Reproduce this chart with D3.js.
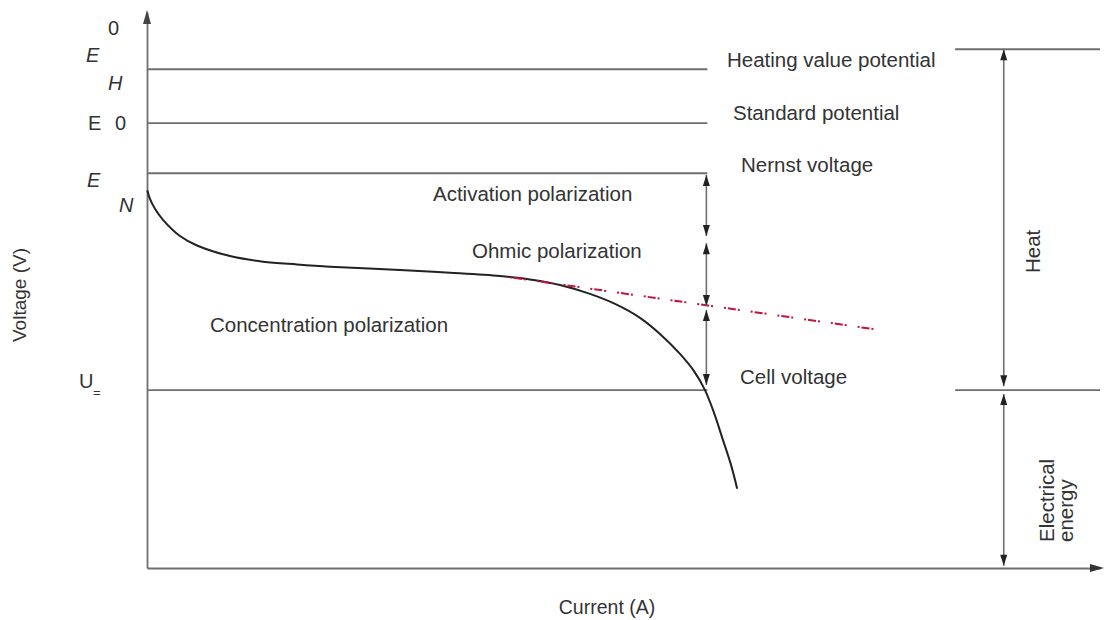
<!DOCTYPE html>
<html>
<head>
<meta charset="utf-8">
<script src="https://cdn.jsdelivr.net/npm/d3@7"></script>
<style>
  body { margin: 0; background: #fff; }
  text { font-family: "Liberation Sans", Arial, Helvetica, sans-serif; fill: #333; }
</style>
</head>
<body>
<svg id="chart" width="1104" height="620"></svg>
<script>
// Fuel cell polarization diagram: cell voltage against current (arbitrary units 0-100)

// Reference potential levels
const levelNames = ["Heating value potential", "Standard potential", "Nernst voltage", "Cell voltage"];
const levelValues = [89.7, 80.0, 71.0, 32.0];

// Polarization curve
const curveCurrent = [0.05, 0.31, 0.84, 1.68, 3.46, 5.25, 8.71, 12.17, 15.74, 19.20, 26.55, 31.79, 37.04, 40.19, 43.34, 46.48, 49.11, 51.73, 53.83, 55.93, 57.40, 58.55, 59.50, 60.44, 61.29, 61.91];
const curveVoltage = [67.8, 66.4, 64.6, 62.6, 59.7, 58.0, 56.1, 55.1, 54.6, 54.2, 53.6, 53.1, 52.5, 51.9, 50.9, 49.3, 47.5, 45.0, 42.1, 38.5, 35.4, 32.0, 27.9, 23.0, 18.5, 14.4];

// Ohmic (linear) extrapolation
const ohmicCurrent = [38.1, 76.9];
const ohmicVoltage = [52.3, 42.8];

// Loss spans measured at the operating current
const lossNames = ["Activation polarization", "Ohmic polarization", "Concentration polarization"];
const lossCurrent = 58.8;
const lossTop = [70.7, 58.4, 46.4];
const lossBottom = [59.7, 47.1, 32.9];

// Energy split of the heating value
const energyNames = ["Heat", "Electrical energy"];
const energyTop = [93.3, 31.3];
const energyBottom = [32.7, 0.4];
const energyCurrent = 89.9;
const energyLevels = [93.3, 32.0];

const svg = d3.select("#chart");
const x = d3.scaleLinear().domain([0, 100]).range([147, 1100]);
const y = d3.scaleLinear().domain([0, 100]).range([568, 12]);

const grey = "#6f6f6f";
const dark = "#222";

// arrowhead: tip at (px,py), dir = +1 points down, -1 up, "right" points right
function head(g, px, py, dir, w, len, fill) {
  let d;
  if (dir === "right") d = `M${px},${py}L${px - len},${py - w}L${px - len},${py + w}Z`;
  else d = `M${px},${py}L${px - w},${py - dir * len}L${px + w},${py - dir * len}Z`;
  g.append("path").attr("d", d).attr("fill", fill);
}

// Axes (no ticks, arrow-tipped)
const axisG = svg.append("g");
axisG.append("g").attr("transform", `translate(${x(0)},0)`)
  .call(d3.axisLeft(y).tickValues([]).tickSizeOuter(0));
axisG.append("g").attr("transform", `translate(0,${y(0)})`)
  .call(d3.axisBottom(x).tickValues([]).tickSizeOuter(0));
axisG.selectAll(".domain").attr("stroke", grey).attr("stroke-width", 1.8);
head(axisG, x(0), 10, -1, 4, 14, "#444");
head(axisG, 1104, y(0), "right", 4, 14, "#333");

// Horizontal potential levels
const lvlEnd = x(lossCurrent);
svg.append("g").selectAll("line").data(levelValues).join("line")
  .attr("x1", x(0)).attr("x2", lvlEnd)
  .attr("y1", d => y(d)).attr("y2", d => y(d))
  .attr("stroke", grey).attr("stroke-width", 1.8);

// Right-hand level stubs
svg.append("g").selectAll("line").data(energyLevels).join("line")
  .attr("x1", x(84.8)).attr("x2", x(100))
  .attr("y1", d => y(d)).attr("y2", d => y(d))
  .attr("stroke", grey).attr("stroke-width", 1.8);

// Level labels
const levelLabelX = [727, 733, 741, 740];
const levelLabelDy = [-2, -3, -1, -6];
svg.append("g").selectAll("text").data(levelNames).join("text")
  .attr("x", (d, i) => levelLabelX[i])
  .attr("y", (d, i) => y(levelValues[i]) + levelLabelDy[i])
  .attr("font-size", 20.5)
  .text(d => d);

// Polarization curve
const curvePts = curveCurrent.map((c, i) => [c, curveVoltage[i]]);
svg.append("path")
  .datum(curvePts)
  .attr("fill", "none")
  .attr("stroke", dark)
  .attr("stroke-width", 2)
  .attr("stroke-linecap", "round")
  .attr("d", d3.line().x(d => x(d[0])).y(d => y(d[1])).curve(d3.curveCatmullRom.alpha(0.5)));

// Ohmic extrapolation line (dash-dot, red)
svg.append("path")
  .datum(ohmicCurrent.map((c, i) => [c, ohmicVoltage[i]]))
  .attr("fill", "none")
  .attr("stroke", "#c4123a")
  .attr("stroke-width", 2)
  .attr("stroke-dasharray", "2,2,8,2,2,11")
  .attr("d", d3.line().x(d => x(d[0])).y(d => y(d[1])));

// Loss span arrows
const lossG = svg.append("g");
lossTop.forEach((t, i) => {
  const px = x(lossCurrent) - 1;
  lossG.append("line")
    .attr("x1", px).attr("x2", px)
    .attr("y1", y(t)).attr("y2", y(lossBottom[i]))
    .attr("stroke", grey).attr("stroke-width", 1.6);
  head(lossG, px, y(t), -1, 3.5, 11, dark);
  head(lossG, px, y(lossBottom[i]), 1, 3.5, 11, dark);
});

// Loss labels
const lossLabelX = [433, 472, 210];
const lossLabelY = [201, 258, 332];
svg.append("g").selectAll("text").data(lossNames).join("text")
  .attr("x", (d, i) => lossLabelX[i])
  .attr("y", (d, i) => lossLabelY[i])
  .attr("font-size", 20.5)
  .text(d => d);

// Energy arrows on the right
const enG = svg.append("g");
energyTop.forEach((t, i) => {
  const px = x(energyCurrent);
  enG.append("line")
    .attr("x1", px).attr("x2", px)
    .attr("y1", y(t)).attr("y2", y(energyBottom[i]))
    .attr("stroke", grey).attr("stroke-width", 1.6);
  head(enG, px, y(t), -1, 3.5, 11, dark);
  head(enG, px, y(energyBottom[i]), 1, 3.5, 11, dark);
});

// Energy labels (vertical)
svg.append("text")
  .attr("transform", "translate(1040,273) rotate(-90)")
  .attr("font-size", 20.5)
  .text(energyNames[0]);
const elec = svg.append("text")
  .attr("transform", "translate(1054,542) rotate(-90)")
  .attr("font-size", 20.5);
energyNames[1].split(" ").forEach((w, i) => {
  elec.append("tspan").attr("x", 0).attr("dy", i === 0 ? 0 : 19).text(w);
});

// Left-side potential symbols
const sym = svg.append("g").attr("font-size", 20);
// E^0_H
const eh = sym.append("text");
eh.append("tspan").attr("x", 86).attr("y", 62).attr("font-style", "italic").text("E");
eh.append("tspan").attr("x", 108).attr("y", 35).text("0");
eh.append("tspan").attr("x", 108).attr("y", 90).attr("font-style", "italic").text("H");
// E 0
sym.append("text").attr("x", 88).attr("y", 130).text("E");
sym.append("text").attr("x", 115).attr("y", 130).text("0");
// E_N
sym.append("text").attr("x", 87).attr("y", 187).attr("font-style", "italic").text("E");
sym.append("text").attr("x", 119).attr("y", 212).attr("font-style", "italic").text("N");
// U=
sym.append("text").attr("x", 79).attr("y", 388).text("U");
sym.append("text").attr("x", 93).attr("y", 397).attr("font-size", 13).text("=");

// Axis titles
svg.append("text")
  .attr("transform", "translate(26,295) rotate(-90)")
  .attr("text-anchor", "middle")
  .attr("font-size", 19)
  .text("Voltage (V)");
svg.append("text")
  .attr("x", 607).attr("y", 614)
  .attr("text-anchor", "middle")
  .attr("font-size", 19.5)
  .text("Current (A)");
</script>
</body>
</html>
